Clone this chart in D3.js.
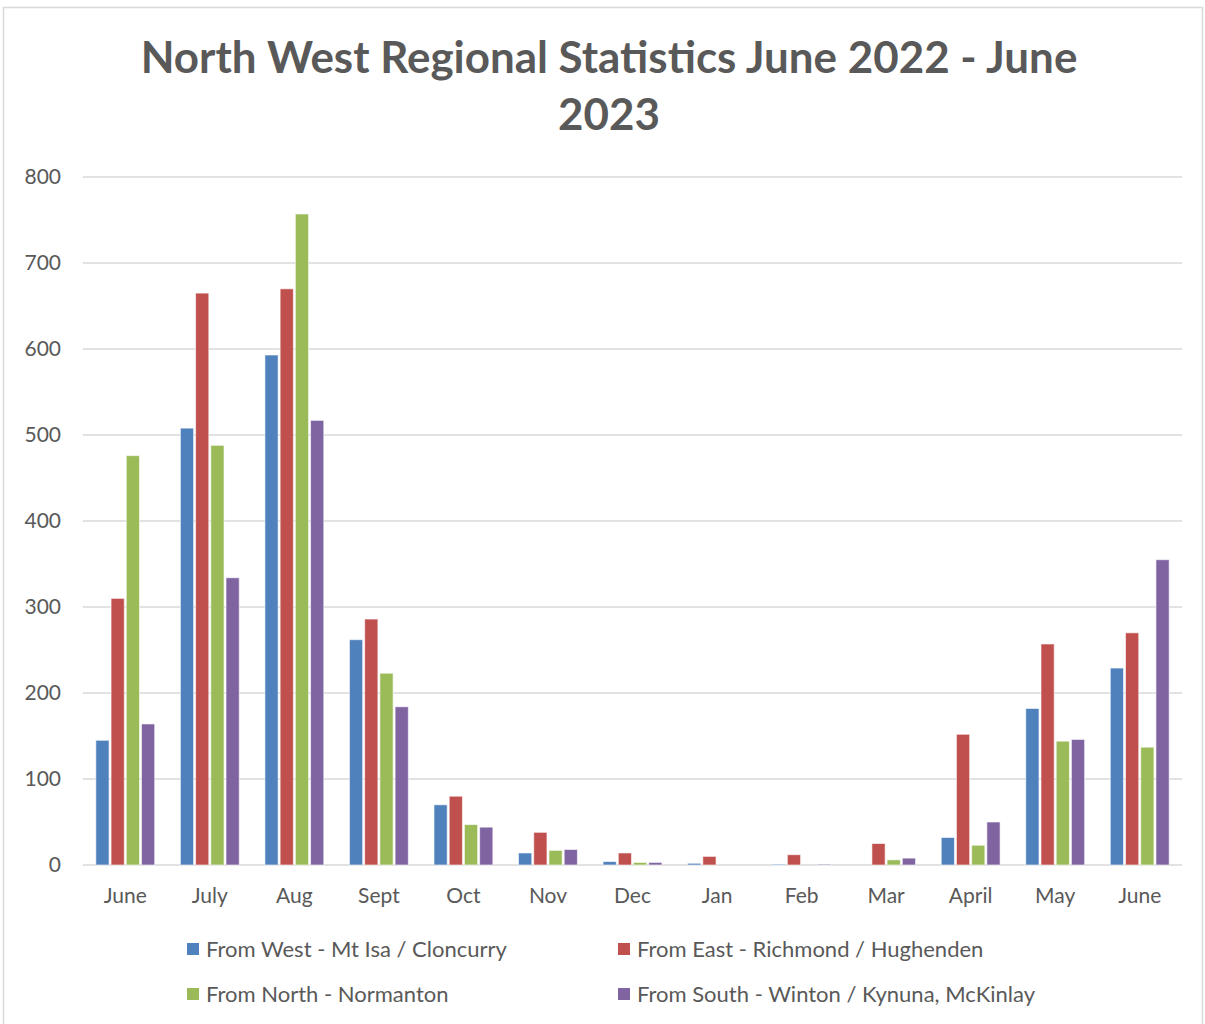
<!DOCTYPE html>
<html>
<head>
<meta charset="utf-8">
<script src="https://cdn.jsdelivr.net/npm/d3@7/dist/d3.min.js"></script>
<style>
  html, body { margin: 0; padding: 0; background: #fff; }
  svg { display: block; }
  text { font-family: Lato, "Open Sans", sans-serif; fill: #595959; }
</style>
</head>
<body>
<svg id="chart" width="1205" height="1024"></svg>
<script>
// Months on the category axis (June 2022 through June 2023)
const months = ["June", "July", "Aug", "Sept", "Oct", "Nov", "Dec", "Jan", "Feb", "Mar", "April", "May", "June"];

// Series names and their values per month
const seriesNames = [
  "From West - Mt Isa / Cloncurry",
  "From East - Richmond / Hughenden",
  "From North - Normanton",
  "From South - Winton / Kynuna, McKinlay"
];
const fromWest  = [145, 508, 593, 262, 70, 14, 4, 2, 1, 0, 32, 182, 229];
const fromEast  = [310, 665, 670, 286, 80, 38, 14, 10, 12, 25, 152, 257, 270];
const fromNorth = [476, 488, 757, 223, 47, 17, 3, 0, 0, 6, 23, 144, 137];
const fromSouth = [164, 334, 517, 184, 44, 18, 3, 0, 1, 8, 50, 146, 355];
const seriesColors = ["#4f81bd", "#c0504d", "#9bbb59", "#8064a2"];

const yTicks = [0, 100, 200, 300, 400, 500, 600, 700, 800];
const titleLines = ["North West Regional Statistics June 2022 - June", "2023"];

const series = [fromWest, fromEast, fromNorth, fromSouth];

const svg = d3.select("#chart");

// Outer chart frame
svg.append("rect")
  .attr("x", 3.5).attr("y", 7.5)
  .attr("width", 1199).attr("height", 1030)
  .attr("fill", "none").attr("stroke", "#d9d9d9").attr("stroke-width", 1.5);

// Title
const title = svg.append("g");
titleLines.forEach((t, i) => {
  title.append("text")
    .attr("x", 609).attr("y", 73 + i * 57)
    .attr("text-anchor", "middle")
    .attr("font-weight", "bold")
    .attr("font-size", 40)
    .text(t);
});
// Fit the first title line to its intended width
const first = title.select("text").node();
const w = first.getComputedTextLength();
const fs = 40 * 937 / w;
title.selectAll("text").attr("font-size", Math.min(44, Math.max(36, fs)));

// Scales
const plotLeft = 83, plotRight = 1182;
const y = d3.scaleLinear().domain([0, 800]).range([865, 177]);
const x0 = d3.scaleBand().domain(d3.range(months.length))
  .range([plotLeft, plotRight]).paddingInner(0.28).paddingOuter(0.14);
const x1 = d3.scaleBand().domain(d3.range(series.length))
  .range([0, x0.bandwidth()]).padding(0);

// Gridlines
svg.append("g")
  .selectAll("line")
  .data(yTicks)
  .join("line")
  .attr("x1", plotLeft).attr("x2", plotRight)
  .attr("y1", d => y(d)).attr("y2", d => y(d))
  .attr("stroke", "#d9d9d9").attr("stroke-width", 1.5);

// Y axis labels
const yAxis = d3.axisLeft(y).tickValues(yTicks).tickSize(0).tickPadding(0);
svg.append("g")
  .attr("transform", "translate(61,0)")
  .call(yAxis)
  .call(g => g.select(".domain").remove())
  .call(g => g.selectAll("text")
    .attr("font-size", 21).attr("fill", "#595959")
    .attr("font-family", "Lato, 'Open Sans', sans-serif"));

// X axis labels
const xAxis = d3.axisBottom(x0).tickFormat(i => months[i]).tickSize(0).tickPadding(0);
svg.append("g")
  .attr("transform", "translate(0,888)")
  .call(xAxis)
  .call(g => g.select(".domain").remove())
  .call(g => g.selectAll("text")
    .attr("font-size", 21).attr("fill", "#595959")
    .attr("font-family", "Lato, 'Open Sans', sans-serif"));

// Bars
const groups = svg.append("g")
  .selectAll("g")
  .data(months.map((m, i) => i))
  .join("g")
  .attr("transform", i => `translate(${x0(i)},0)`);

groups.selectAll("rect")
  .data(i => series.map((s, k) => ({ k, v: s[i] })))
  .join("rect")
  .filter(d => d.v > 0)
  .attr("x", d => x1(d.k) + 1)
  .attr("width", x1.bandwidth() - 2)
  .attr("y", d => y(d.v))
  .attr("height", d => y(0) - y(d.v))
  .attr("fill", d => seriesColors[d.k])
  .attr("stroke", "#ffffff").attr("stroke-opacity", 0.6).attr("stroke-width", 1);

// Legend
const legendPos = [[187, 949], [618, 949], [187, 994], [618, 994]];
const legend = svg.append("g")
  .selectAll("g")
  .data(seriesNames)
  .join("g")
  .attr("transform", (d, i) => `translate(${legendPos[i][0]},${legendPos[i][1]})`);
legend.append("rect")
  .attr("x", 0).attr("y", -6).attr("width", 12).attr("height", 12)
  .attr("fill", (d, i) => seriesColors[i]);
legend.append("text")
  .attr("x", 19).attr("y", 8)
  .attr("font-size", 22)
  .text(d => d);
</script>
</body>
</html>
